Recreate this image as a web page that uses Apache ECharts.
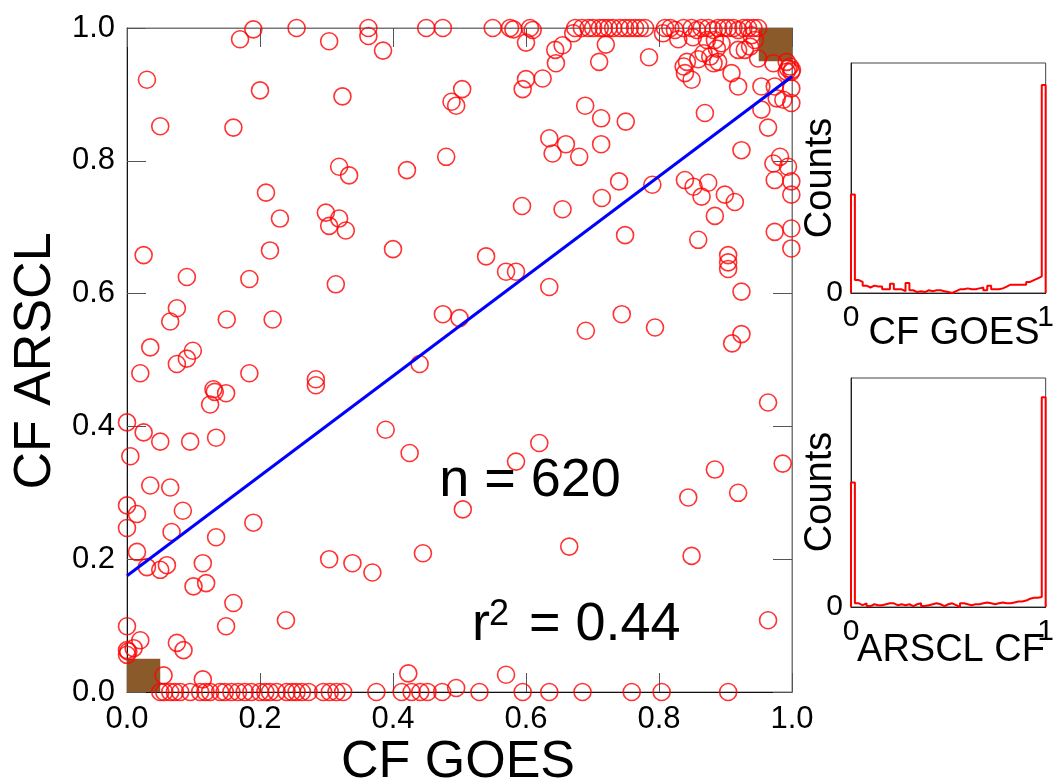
<!DOCTYPE html>
<html><head><meta charset="utf-8">
<script src="https://cdn.jsdelivr.net/npm/echarts@6/dist/echarts.min.js"></script>
<style>html,body{margin:0;padding:0;background:#fff}#c{width:1057px;height:784px}</style>
</head><body><div id="c"></div>
<script>
// scatter values: CF GOES (x) and CF ARSCL (y)
const goesCF = [
0.190,0.255,0.363,0.363,0.170,0.304,0.385,
0.450,0.475,0.550,0.576,0.581,0.606,0.610,
0.600,0.644,0.655,0.645,0.600,0.595,0.625,
0.674,0.684,0.694,0.701,0.711,0.717,0.724,0.731,
0.671,0.720,0.710,
0.741,0.749,0.756,0.764,0.771,0.779,0.785,
0.809,0.817,0.824,0.837,0.849,0.857,0.864,0.874,0.882,0.889,0.897,0.904,0.912,0.919,0.927,0.934,0.942,0.949,
0.806,0.829,0.851,0.842,0.837,0.839,0.849,
0.859,0.867,0.877,0.882,0.889,0.887,0.872,0.884,0.894,
0.909,0.919,0.919,0.929,0.937,0.944,0.939,
0.949,0.972,
0.992,0.994,0.999,0.997,1.0,0.992,
0.954,0.974,0.999,0.977,0.987,0.999,
0.954,0.964,0.869,0.924,
0.982,0.972,0.994,0.974,0.999,0.999,
0.974,0.999,0.999,0.904,
0.689,0.713,0.750,
0.635,0.640,0.660,0.680,0.713,
0.504,0.488,0.495,0.480,0.421,
0.740,0.714,0.790,
0.839,0.852,0.864,0.874,0.899,0.914,0.884,
0.594,0.655,0.749,0.859,0.540,
0.030,0.050,0.200,0.160,0.324,0.319,0.334,
0.209,0.230,0.299,0.304,0.319,0.329,0.025,0.215,0.400,
0.090,0.184,0.314,0.075,0.065,0.150,0.219,0.035,0.099,0.090,0.075,0.020,0.184,0.130,0.132,0.149,0.125,0.284,0.284,0.389,0.0,0.025,0.050,0.095,0.134,0.005,0.035,0.065,0.0,0.015,0.084,0.190,
0.570,0.585,0.635,0.475,0.500,0.440,0.690,0.744,0.794,0.904,0.904,0.924,0.924,0.910,0.964,0.425,0.585,0.620,0.505,0.884,0.844,0.919,0.986,
0.0,0.015,0.067,0.134,0.030,0.050,0.060,0.114,0.100,0.119,0.160,0.149,0.239,0.304,0.339,0.369,0.0,0.020,0.010,0.0,0.0,0.002,0.075,0.085,0.055,0.114,0.423,
0.445,0.665,0.849,0.964,0.570,0.495,
0.050,0.056,0.065,0.072,0.080,0.095,0.110,0.118,0.125,0.140,0.147,0.157,0.167,0.177,0.187,0.200,0.208,0.215,0.225,0.240,0.248,0.255,0.263,0.273,0.295,0.305,0.315,0.325,0.375,0.413,0.428,0.441,0.452,0.474,0.530,0.595,0.635,0.685,0.759,0.804,0.904
];
const arsclCF = [
0.998,1.0,1.0,0.988,0.983,0.980,0.966,
1.0,1.0,1.0,1.0,0.998,1.0,0.997,
0.978,0.967,0.974,0.947,0.923,0.908,0.924,
1.0,1.0,1.0,1.0,1.0,1.0,1.0,1.0,
0.992,0.975,0.949,
1.0,1.0,1.0,1.0,1.0,1.0,0.956,
1.0,1.0,0.997,1.0,1.0,0.997,1.0,1.0,0.997,1.0,1.0,1.0,1.0,0.997,1.0,1.0,1.0,1.0,
0.992,0.983,0.986,0.949,0.942,0.932,0.922,
0.953,0.962,0.957,0.947,0.949,0.969,0.982,0.982,0.977,
0.932,0.912,0.967,0.967,0.972,0.982,0.989,
0.954,0.947,
0.949,0.939,0.934,0.942,0.937,0.934,
0.912,0.912,0.909,0.894,0.892,0.887,
0.877,0.850,0.872,0.816,
0.806,0.796,0.791,0.771,0.769,0.749,
0.693,0.698,0.668,0.658,
0.883,0.864,0.859,
0.834,0.811,0.825,0.806,0.825,
0.908,0.889,0.883,0.806,0.786,
0.769,0.744,0.764,
0.771,0.761,0.746,0.767,0.749,0.738,0.717,
0.732,0.727,0.688,0.681,0.656,
0.922,0.852,0.906,0.850,0.897,0.791,0.778,
0.752,0.713,0.722,0.702,0.713,0.695,0.658,0.665,0.667,
0.625,0.622,0.614,0.578,0.558,0.561,0.561,0.519,0.514,0.502,0.494,0.480,0.480,0.456,0.452,0.450,0.433,0.471,0.462,0.395,0.406,0.391,0.377,0.377,0.383,0.355,0.311,0.308,0.281,0.268,0.273,0.255,
0.633,0.633,0.610,0.569,0.563,0.494,0.544,0.569,0.549,0.647,0.637,0.603,0.539,0.525,0.436,0.360,0.347,0.375,0.275,0.335,0.293,0.300,0.344,
0.247,0.211,0.241,0.233,0.188,0.184,0.191,0.194,0.159,0.164,0.134,0.099,0.108,0.200,0.194,0.180,0.099,0.078,0.066,0.063,0.056,0.061,0.074,0.063,0.025,0.019,0.028,
0.209,0.219,0.205,0.108,0.026,0.006,
0,0,0,0,0,0,0,0,0,0,0,0,0,0,0,0,0,0,0,0,0,0,0,0,0,0,0,0,0,0,0,0,0,0,0,0,0,0,0,0,0
];
// regression fit line end values
const fitX = [0, 1];
const fitY = [0.175, 0.927];
// dense cells (x0, y0, x1, y1)
const denseCells = [[0, 0, 0.05, 0.05], [0.95, 0.95, 1.0, 1.0]];
// histograms: 50 bins of width 0.02
const goesHist = [107,14,12,8,6,8,7,7,4,4,10,4,4,2,11,3,1,2,1,3,2,3,3,2,1,0,2,4,4,5,4,4,5,6,3,8,4,4,5,7,9,9,9,9,9,12,14,16,18,226];
const arsclHist = [136,4,2,4,1,3,2,2,3,4,4,2,3,2,3,1,3,4,1,2,3,4,3,1,3,4,2,0,4,3,2,3,3,4,5,4,3,4,5,4,4,5,6,6,7,9,10,10,11,229];
const nText = 'n = 620';
const r2Value = '= 0.44';

const FONT = '"Liberation Sans", Arial, Helvetica, sans-serif';
function stepPts(h){
  const w = 1 / h.length;
  const p = [[0, 0]];
  h.forEach((c, i) => p.push([i * w, c]));
  p.push([1, h[h.length - 1]]);
  p.push([1, 0]);
  return p;
}
const scatterData = goesCF.map((x, i) => [x, arsclCF[i]]);
const fmt = v => v.toFixed(1);

const chart = echarts.init(document.getElementById('c'), null, {renderer: 'canvas'});
const mainAxisCommon = {
  type: 'value', min: 0, max: 1, interval: 0.2,
  splitLine: {show: false},
  axisTick: {show: true, inside: true, length: 19, lineStyle: {color: '#555', width: 1}},
};
const histX = (gi) => ({
  gridIndex: gi, type: 'value', min: 0, max: 1, interval: 1,
  splitLine: {show: false}, axisTick: {show: false},
  axisLine: {show: true, onZero: false, lineStyle: {color: '#222', width: 1}},
  axisLabel: {fontFamily: FONT, fontSize: 30, color: '#000', margin: 10, formatter: v => String(v)}
});
const histY = (gi) => ({
  gridIndex: gi, type: 'value', min: 0, max: 250, interval: 250,
  splitLine: {show: false}, axisTick: {show: false},
  axisLine: {show: true, onZero: false, lineStyle: {color: '#222', width: 1}},
  axisLabel: {fontFamily: FONT, fontSize: 30, color: '#000', margin: 8, formatter: v => v === 0 ? '0' : ''}
});

chart.setOption({
  animation: false,
  backgroundColor: '#fff',
  grid: [
    {left: 127, right: 265, top: 28, bottom: 92, show: true, borderColor: '#777', borderWidth: 1},
    {left: 851, right: 2, top: 63, bottom: 491, show: true, borderColor: '#444', borderWidth: 1},
    {left: 851, right: 2, top: 378, bottom: 177, show: true, borderColor: '#444', borderWidth: 1}
  ],
  xAxis: [
    Object.assign({}, mainAxisCommon, {gridIndex: 0, position: 'bottom',
      axisLine: {show: true, onZero: false, lineStyle: {color: '#111', width: 1}},
      axisLabel: {fontFamily: FONT, fontSize: 31, color: '#000', margin: 12, formatter: fmt}}),
    Object.assign({}, mainAxisCommon, {gridIndex: 0, position: 'top',
      axisLine: {show: true, onZero: false, lineStyle: {color: '#777', width: 1}},
      axisLabel: {show: false}}),
    histX(1), histX(2)
  ],
  yAxis: [
    Object.assign({}, mainAxisCommon, {gridIndex: 0, position: 'left',
      axisLine: {show: true, onZero: false, lineStyle: {color: '#111', width: 1}},
      axisLabel: {fontFamily: FONT, fontSize: 31, color: '#000', margin: 12, formatter: fmt}}),
    Object.assign({}, mainAxisCommon, {gridIndex: 0, position: 'right',
      axisLine: {show: true, onZero: false, lineStyle: {color: '#777', width: 1}},
      axisLabel: {show: false}}),
    histY(1), histY(2)
  ],
  series: [
    {
      type: 'custom', xAxisIndex: 0, yAxisIndex: 0, z: 1,
      data: denseCells,
      renderItem: function(params, api){
        const p0 = api.coord([api.value(0), api.value(1)]);
        const p1 = api.coord([api.value(2), api.value(3)]);
        return {type: 'rect', shape: {x: p0[0], y: p1[1], width: p1[0] - p0[0], height: p0[1] - p1[1]},
          style: {fill: '#8B5A2B'}};
      },
      encode: {x: [0, 2], y: [1, 3]}
    },
    {
      type: 'scatter', xAxisIndex: 0, yAxisIndex: 0, z: 3,
      symbol: 'circle', symbolSize: 17,
      itemStyle: {color: 'rgba(0,0,0,0)', borderColor: '#ff0000', borderWidth: 1.6},
      data: scatterData, clip: false
    },
    {
      type: 'line', xAxisIndex: 0, yAxisIndex: 0, z: 5, symbol: 'none',
      lineStyle: {color: '#0000ff', width: 3},
      data: fitX.map((x, i) => [x, fitY[i]])
    },
    {
      type: 'line', xAxisIndex: 2, yAxisIndex: 2, step: 'end', symbol: 'none',
      lineStyle: {color: '#ff0000', width: 2}, data: stepPts(goesHist)
    },
    {
      type: 'line', xAxisIndex: 3, yAxisIndex: 3, step: 'end', symbol: 'none',
      lineStyle: {color: '#ff0000', width: 2}, data: stepPts(arsclHist)
    }
  ],
  graphic: [
    {type: 'text', x: 36, y: 361, rotation: Math.PI / 2,
      style: {text: 'CF ARSCL', font: '52px ' + FONT, fill: '#000', align: 'center', verticalAlign: 'middle'}},
    {type: 'text', x: 458, y: 763,
      style: {text: 'CF GOES', font: '52px ' + FONT, fill: '#000', align: 'center', verticalAlign: 'middle'}},
    {type: 'text', x: 530, y: 481,
      style: {text: nText, font: '54px ' + FONT, fill: '#000', align: 'center', verticalAlign: 'middle'}},
    {type: 'text', x: 472, y: 625,
      style: {text: 'r', font: '54px ' + FONT, fill: '#000', align: 'left', verticalAlign: 'middle'}},
    {type: 'text', x: 489, y: 615,
      style: {text: '2', font: '36px ' + FONT, fill: '#000', align: 'left', verticalAlign: 'middle'}},
    {type: 'text', x: 529, y: 625,
      style: {text: r2Value, font: '54px ' + FONT, fill: '#000', align: 'left', verticalAlign: 'middle'}},
    {type: 'text', x: 821, y: 178, rotation: Math.PI / 2,
      style: {text: 'Counts', font: '38px ' + FONT, fill: '#000', align: 'center', verticalAlign: 'middle'}},
    {type: 'text', x: 821, y: 492, rotation: Math.PI / 2,
      style: {text: 'Counts', font: '38px ' + FONT, fill: '#000', align: 'center', verticalAlign: 'middle'}},
    {type: 'text', x: 954, y: 334,
      style: {text: 'CF GOES', font: '38px ' + FONT, fill: '#000', align: 'center', verticalAlign: 'middle'}},
    {type: 'text', x: 951, y: 651,
      style: {text: 'ARSCL CF', font: '38px ' + FONT, fill: '#000', align: 'center', verticalAlign: 'middle'}}
  ]
});
</script></body></html>
